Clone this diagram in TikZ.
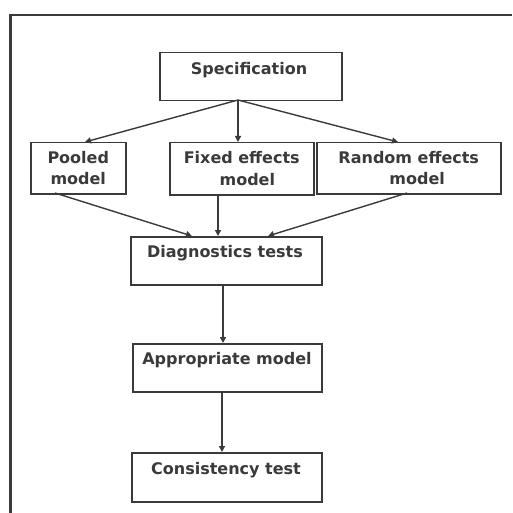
\documentclass[tikz,border=0pt]{standalone}
\usepackage{fontspec}
\setmainfont{DejaVu Sans}
\usetikzlibrary{arrows.meta}
\definecolor{ink}{HTML}{3A3A3A}
\begin{document}
\begin{tikzpicture}[x=1pt,y=-1pt,
  txt/.style={text=ink,inner sep=0pt,align=center,font=\bfseries\fontsize{16}{21.5}\selectfont},
  boxnode/.style={draw=ink,line width=1.5pt,inner sep=0pt,align=center,txt},
  conn/.style={draw=ink,line width=1.4pt,-{Triangle[length=6pt,width=6pt]}}]
\useasboundingbox (0,0) rectangle (512,513);
\draw[ink,line width=2.4pt] (10.5,513) -- (10.5,15) -- (512,15);
% boxes
\node[boxnode,minimum width=182pt,minimum height=48pt,anchor=north west] (spec) at (159,52) {};
\node[txt] (spect) at (249,70) {Specification};
\node[boxnode,minimum width=95pt,minimum height=51pt,anchor=north west] (pool) at (30,142) {Pooled\\model};
\node[boxnode,minimum width=144pt,minimum height=52pt,anchor=north west] (fix) at (169,142) {Fixed effects\\\ \ model};
\node[boxnode,minimum width=184pt,minimum height=51pt,anchor=north west] (rand) at (316,142) {Random effects\\\ \ \ model};
\node[boxnode,minimum width=191pt,minimum height=48pt,anchor=north west] (diag) at (130,236) {};
\node[txt] (diagt) at (225,253) {Diagnostics tests};
\node[boxnode,minimum width=189pt,minimum height=48pt,anchor=north west] (appr) at (132,343) {};
\node[txt] (apprt) at (227,360) {Appropriate model};
\node[boxnode,minimum width=190pt,minimum height=49pt,anchor=north west] (cons) at (131,452) {};
\node[txt] (const) at (226,470) {Consistency test};
% connector points
\coordinate (s0) at (238,100);
\coordinate (p1) at (85,142);
\coordinate (f1) at (238,142);
\coordinate (r1) at (398,142);
\coordinate (p0) at (55,193);
\coordinate (f0) at (218,194);
\coordinate (r0) at (407,193);
\coordinate (d1) at (192,236);
\coordinate (d2) at (218,236);
\coordinate (d3) at (268,236);
\coordinate (d0) at (223,284);
\coordinate (a1) at (223,343);
\coordinate (a0) at (222,391);
\coordinate (c1) at (222,452);
\draw[conn] (s0) -- (p1);
\draw[conn] (s0) -- (f1);
\draw[conn] (s0) -- (r1);
\draw[conn] (p0) -- (d1);
\draw[conn] (f0) -- (d2);
\draw[conn] (r0) -- (d3);
\draw[conn] (d0) -- (a1);
\draw[conn] (a0) -- (c1);
\end{tikzpicture}
\end{document}
